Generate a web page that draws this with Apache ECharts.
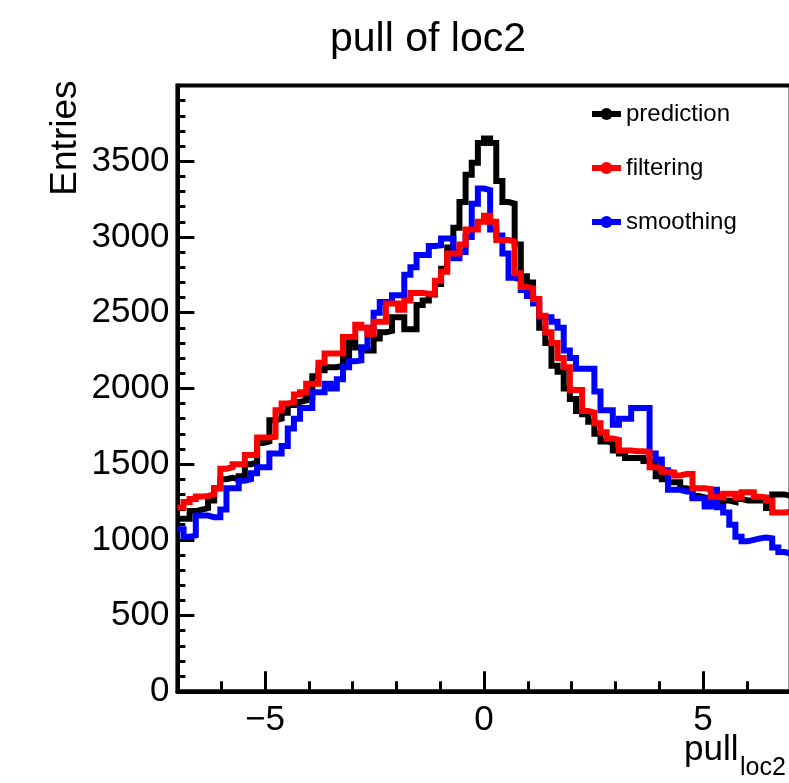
<!DOCTYPE html>
<html><head><meta charset="utf-8">
<script src="https://cdn.jsdelivr.net/npm/echarts@6/dist/echarts.min.js"></script>
<style>html,body{margin:0;padding:0;background:#fff}#c{width:789px;height:783px}</style>
</head><body><div id="c"></div>
<script>
// histogram range (100 bins from -7 to 7)
const binLow = -7;
const binHigh = 7;
const xMajorTicks = [-5, 0, 5];
const xMinorTicks = [-6, -4, -3, -2, -1, 1, 2, 3, 4, 6];
const yTickLabels = [0, 500, 1000, 1500, 2000, 2500, 3000, 3500];
const seriesNames = ['prediction', 'filtering', 'smoothing'];
const xTitleMain = 'pull';
const xTitleSub = 'loc2';

const prediction = [
 1140,1140,1190,1200,1210,1260,1340,1400,1410,1400,
 1420,1500,1510,1640,1650,1790,1800,1840,1890,1910,
 1920,1940,2080,2120,2140,2140,2150,2200,2300,2270,
 2250,2250,2330,2370,2380,2470,2470,2390,2390,2550,
 2580,2620,2690,2790,2930,3060,3230,3410,3490,3620,
 3650,3620,3370,3230,3220,2950,2740,2700,2590,2400,
 2300,2150,2110,2000,1930,1850,1830,1780,1700,1650,
 1640,1590,1570,1540,1540,1540,1520,1510,1420,1400,
 1380,1380,1340,1330,1290,1280,1230,1230,1230,1260,
 1250,1270,1260,1260,1260,1260,1210,1300,1300,1290
];
const filtering = [
 1214,1250,1270,1287,1290,1300,1340,1470,1480,1500,
 1500,1560,1560,1676,1676,1680,1855,1900,1910,1960,
 1975,2030,2030,2170,2230,2230,2230,2340,2340,2420,
 2400,2360,2440,2440,2560,2560,2520,2580,2630,2630,
 2625,2625,2710,2770,2890,2890,2950,3050,3050,3100,
 3140,3100,2980,2980,2970,2760,2670,2660,2590,2480,
 2370,2300,2200,2140,1990,1990,1850,1840,1770,1710,
 1670,1660,1590,1590,1585,1585,1580,1480,1470,1450,
 1445,1425,1435,1435,1340,1340,1335,1285,1280,1305,
 1305,1280,1315,1315,1285,1280,1260,1180,1180,1185
];
const smoothing = [
 1070,1020,1030,1160,1160,1150,1150,1200,1340,1340,
 1390,1400,1440,1480,1480,1570,1570,1620,1735,1800,
 1870,1870,1975,1975,2030,2000,2060,2140,2180,2185,
 2270,2400,2500,2570,2570,2615,2615,2750,2800,2880,
 2880,2940,2945,2990,2990,2860,2900,3000,3220,3320,
 3310,3050,3010,2890,2730,2720,2650,2610,2560,2470,
 2470,2440,2400,2250,2200,2130,2130,2130,1980,1855,
 1855,1760,1800,1800,1870,1870,1870,1570,1530,1460,
 1330,1330,1320,1320,1275,1275,1220,1330,1215,1180,
 1100,1020,990,1000,1010,1015,1010,950,920,910
];

function toSteps(vals) {
  const w = (binHigh - binLow) / vals.length;
  const pts = vals.map((v, i) => [binLow + i * w, v]);
  pts.push([binHigh, vals[vals.length - 1]]);
  return pts;
}

const FONT = 'Liberation Sans';
const chart = echarts.init(document.getElementById('c'), null, {renderer: 'canvas'});

function histSeries(name, vals, color) {
  return {
    name: name, type: 'line', step: 'end', symbol: 'none',
    data: toSteps(vals), xAxisIndex: 0, yAxisIndex: 0,
    lineStyle: {width: 6, color: color, join: 'miter'},
    itemStyle: {color: color},
    emphasis: {disabled: true}, clip: true
  };
}

chart.setOption({
  animation: false,
  backgroundColor: '#fff',
  title: {
    text: 'pull of loc2', left: 423, top: 14, textAlign: 'center',
    textStyle: {fontFamily: FONT, fontSize: 41, fontWeight: 'normal', color: '#000'}
  },
  legend: {
    orient: 'vertical', left: 589, top: 102, padding: 0,
    itemWidth: 29, itemHeight: 15, itemGap: 30,
    data: seriesNames,
    lineStyle: {width: 6},
    textStyle: {fontFamily: FONT, fontSize: 24, color: '#000', lineHeight: 24}
  },
  grid: {
    left: 177.4, top: 85.5, width: 613.2, height: 605.8,
    outerBoundsMode: 'none', containLabel: false,
    show: true, borderColor: '#000', borderWidth: 4, backgroundColor: 'transparent'
  },
  graphic: [
    {type: 'text', left: 684, top: 733, silent: true,
     style: {text: xTitleMain, fill: '#000', font: '35px "Liberation Sans"'}},
    {type: 'text', left: 740, top: 756, silent: true,
     style: {text: xTitleSub, fill: '#000', font: '25px "Liberation Sans"'}}
  ],
  xAxis: [{
    type: 'value', min: binLow, max: binHigh,
    axisLine: {show: true, onZero: false, lineStyle: {color: '#000', width: 4}},
    axisTick: {show: true, inside: true, length: 20, customValues: xMajorTicks, lineStyle: {color: '#000', width: 3}},
    axisLabel: {show: true, customValues: xMajorTicks, margin: 12, fontFamily: FONT, fontSize: 35, color: '#000',
      formatter: v => String(v).replace('-', '\u2212')},
    splitLine: {show: false}
  }, {
    type: 'value', min: binLow, max: binHigh, position: 'bottom',
    axisLine: {show: false, onZero: false},
    axisTick: {show: true, inside: true, length: 10, customValues: xMinorTicks, lineStyle: {color: '#000', width: 3}},
    axisLabel: {show: false},
    splitLine: {show: false}
  }],
  yAxis: [{
    type: 'value', min: 0, max: 4000, interval: 500,
    axisLine: {show: true, onZero: false, lineStyle: {color: '#000', width: 4}},
    axisTick: {show: true, inside: true, length: 17, lineStyle: {color: '#000', width: 3}},
    minorTick: {show: true, splitNumber: 5, length: 8, lineStyle: {color: '#000', width: 3}},
    axisLabel: {margin: 8, fontFamily: FONT, fontSize: 35, color: '#000',
      formatter: v => (yTickLabels.indexOf(v) >= 0 ? String(v) : '')},
    splitLine: {show: false}, minorSplitLine: {show: false},
    name: 'Entries', nameLocation: 'end', nameRotate: 90, nameGap: 5,
    nameTextStyle: {fontFamily: FONT, fontSize: 37, color: '#000', align: 'right', verticalAlign: 'bottom', padding: [0, 0, 93, 0]}
  }],
  series: [
    histSeries(seriesNames[0], prediction, '#000000'),
    histSeries(seriesNames[2], smoothing, '#0000ff'),
    histSeries(seriesNames[1], filtering, '#ff0000')
  ]
});
</script>
</body></html>
